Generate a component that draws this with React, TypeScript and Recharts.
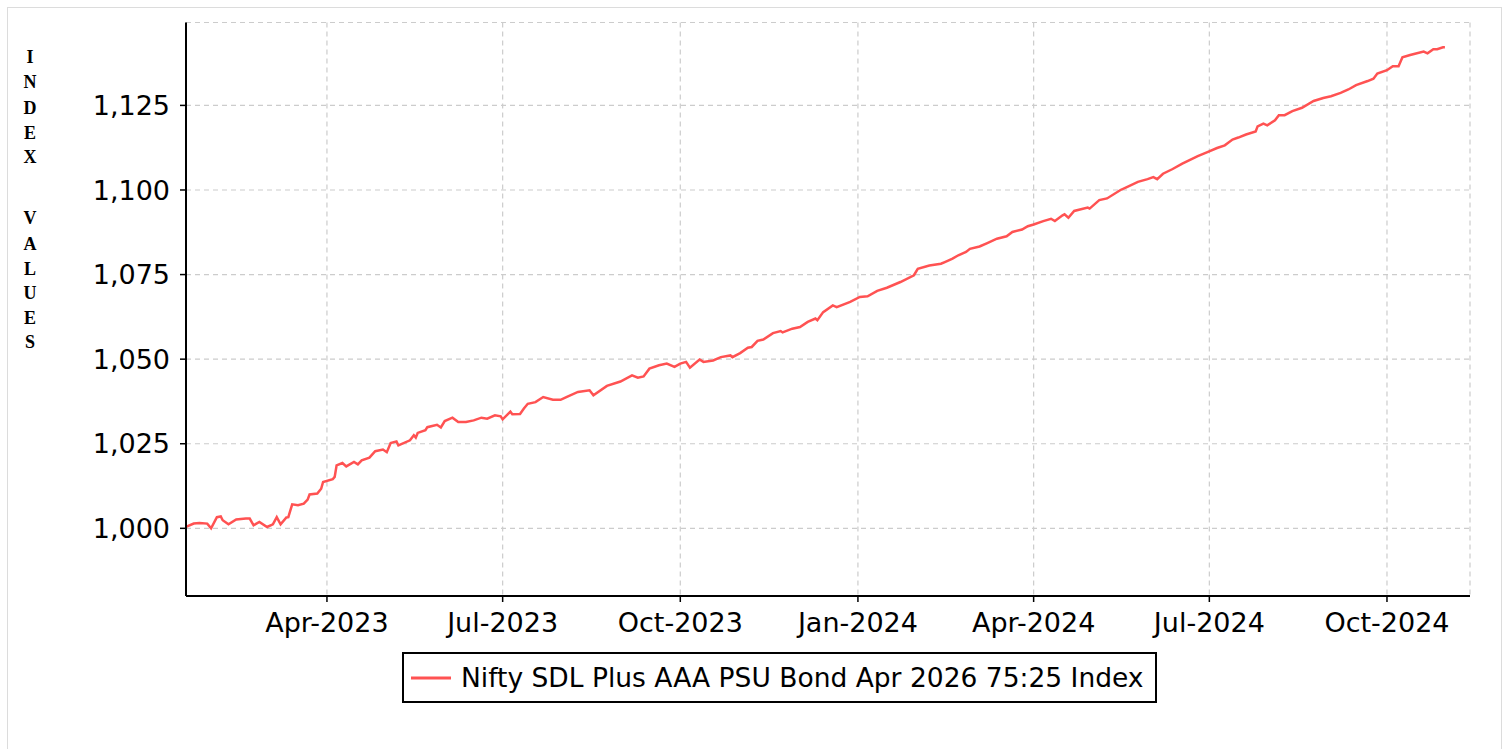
import { CartesianGrid, Legend, Line, LineChart, XAxis, YAxis } from "recharts";

// readings of the index, grouped one month per row
const dates = [
    "2023-01-18", "2023-01-22", "2023-01-25", "2023-01-29", "2023-01-31",
    "2023-02-03", "2023-02-05", "2023-02-06", "2023-02-09", "2023-02-13", "2023-02-18", "2023-02-20", "2023-02-22", "2023-02-25",
    "2023-03-01", "2023-03-04", "2023-03-06", "2023-03-08", "2023-03-11", "2023-03-12", "2023-03-14", "2023-03-17", "2023-03-20", "2023-03-22", "2023-03-23", "2023-03-27", "2023-03-29", "2023-03-30",
    "2023-04-04", "2023-04-05", "2023-04-06", "2023-04-09", "2023-04-11", "2023-04-15", "2023-04-17", "2023-04-19", "2023-04-23", "2023-04-26", "2023-04-30",
    "2023-05-02", "2023-05-04", "2023-05-07", "2023-05-08", "2023-05-14", "2023-05-16", "2023-05-17", "2023-05-18", "2023-05-22", "2023-05-23", "2023-05-28", "2023-05-30",
    "2023-06-01", "2023-06-05", "2023-06-08", "2023-06-12", "2023-06-16", "2023-06-20", "2023-06-23", "2023-06-27", "2023-06-30",
    "2023-07-01", "2023-07-05", "2023-07-06", "2023-07-10", "2023-07-12", "2023-07-14", "2023-07-18", "2023-07-22", "2023-07-27", "2023-07-31",
    "2023-08-03", "2023-08-09", "2023-08-15", "2023-08-17", "2023-08-24", "2023-08-31",
    "2023-09-06", "2023-09-09", "2023-09-12", "2023-09-15", "2023-09-20", "2023-09-24", "2023-09-28",
    "2023-10-01", "2023-10-04", "2023-10-06", "2023-10-11", "2023-10-13", "2023-10-18", "2023-10-22", "2023-10-27", "2023-10-28",
    "2023-11-01", "2023-11-05", "2023-11-07", "2023-11-10", "2023-11-13", "2023-11-18", "2023-11-22", "2023-11-23", "2023-11-28",
    "2023-12-02", "2023-12-06", "2023-12-10", "2023-12-11", "2023-12-14", "2023-12-19", "2023-12-21", "2023-12-28",
    "2024-01-02", "2024-01-06", "2024-01-11", "2024-01-16", "2024-01-23", "2024-01-30",
    "2024-02-01", "2024-02-07", "2024-02-13", "2024-02-15", "2024-02-19", "2024-02-22", "2024-02-26", "2024-02-28",
    "2024-03-04", "2024-03-08", "2024-03-13", "2024-03-18", "2024-03-21", "2024-03-26", "2024-03-29",
    "2024-04-01", "2024-04-06", "2024-04-10", "2024-04-12", "2024-04-16", "2024-04-17", "2024-04-19", "2024-04-22", "2024-04-29", "2024-04-30",
    "2024-05-05", "2024-05-09", "2024-05-16", "2024-05-19", "2024-05-25", "2024-05-30",
    "2024-06-02", "2024-06-04", "2024-06-07", "2024-06-12", "2024-06-17", "2024-06-25", "2024-06-30",
    "2024-07-05", "2024-07-09", "2024-07-13", "2024-07-16", "2024-07-20", "2024-07-25", "2024-07-26", "2024-07-29", "2024-07-31",
    "2024-08-04", "2024-08-06", "2024-08-09", "2024-08-13", "2024-08-18", "2024-08-24", "2024-08-29",
    "2024-09-02", "2024-09-07", "2024-09-11", "2024-09-15", "2024-09-21", "2024-09-24", "2024-09-26",
    "2024-10-01", "2024-10-04", "2024-10-07", "2024-10-09", "2024-10-13", "2024-10-15", "2024-10-20", "2024-10-22", "2024-10-25", "2024-10-27", "2024-10-30", "2024-10-31",
];

const indexValues = [
    1000.4, 1001.4, 1001.6, 1001.4, 1000.0,
    1003.3, 1003.5, 1002.4, 1001.2, 1002.6, 1002.9, 1002.9, 1000.9, 1001.9,
    1000.4, 1001.2, 1003.3, 1001.2, 1003.2, 1003.3, 1007.1, 1006.8, 1007.3, 1008.5, 1010.0, 1010.3, 1011.7, 1013.7,
    1014.5, 1015.2, 1018.6, 1019.3, 1018.3, 1019.6, 1018.9, 1020.1, 1020.9, 1022.8, 1023.3,
    1022.5, 1025.2, 1025.7, 1024.5, 1026.0, 1027.5, 1026.8, 1028.2, 1029.0, 1029.9, 1030.6, 1029.8,
    1031.7, 1032.7, 1031.4, 1031.4, 1031.9, 1032.7, 1032.4, 1033.4, 1033.1,
    1032.2, 1034.5, 1033.7, 1033.8, 1035.4, 1036.8, 1037.3, 1038.8, 1038.0, 1038.0,
    1038.8, 1040.3, 1040.8, 1039.3, 1042.1, 1043.4,
    1045.2, 1044.5, 1044.9, 1047.2, 1048.2, 1048.7, 1047.7,
    1048.7, 1049.2, 1047.5, 1049.9, 1049.2, 1049.6, 1050.6, 1051.1, 1050.6,
    1051.8, 1053.4, 1053.6, 1055.4, 1055.8, 1057.7, 1058.3, 1057.9, 1059.0,
    1059.5, 1061.0, 1062.0, 1061.5, 1063.9, 1065.9, 1065.4, 1066.9,
    1068.4, 1068.6, 1070.2, 1071.1, 1072.8, 1074.8,
    1076.7, 1077.7, 1078.2, 1078.7, 1079.7, 1080.7, 1081.7, 1082.6,
    1083.3, 1084.3, 1085.6, 1086.3, 1087.6, 1088.3, 1089.3,
    1089.8, 1090.8, 1091.5, 1090.8, 1092.5, 1092.8, 1091.8, 1093.8, 1094.8, 1094.5,
    1097.0, 1097.5, 1100.0, 1100.8, 1102.4, 1103.2,
    1103.8, 1103.2, 1104.8, 1106.2, 1107.8, 1110.0, 1111.2,
    1112.4, 1113.2, 1114.9, 1115.5, 1116.4, 1117.3, 1118.8, 1119.6, 1119.1,
    1120.6, 1122.1, 1122.1, 1123.3, 1124.3, 1126.3, 1127.2,
    1127.7, 1128.7, 1129.7, 1131.0, 1132.2, 1132.9, 1134.4,
    1135.4, 1136.6, 1136.6, 1139.2, 1139.9, 1140.2, 1140.9, 1140.4, 1141.6, 1141.6, 1142.2, 1142.2,
];

const tickDates = ["2023-04-01", "2023-07-01", "2023-10-01", "2024-01-01", "2024-04-01", "2024-07-01", "2024-10-01"];
const tickLabels = ["Apr-2023", "Jul-2023", "Oct-2023", "Jan-2024", "Apr-2024", "Jul-2024", "Oct-2024"];
const yTicks = [1000, 1025, 1050, 1075, 1100, 1125];

const xStart = "2023-01-18";
const xEnd = "2024-11-13";
const seriesName = "Nifty SDL Plus AAA PSU Bond Apr 2026 75:25 Index";
const yTitleTop = ["I", "N", "D", "E", "X"];
const yTitleBottom = ["V", "A", "L", "U", "E", "S"];

const data = dates.map((d, i) => ({ t: Date.parse(d), value: indexValues[i] }));
const xTicks = tickDates.map((d) => Date.parse(d));

const FONT = "'DejaVu Sans', sans-serif";
const LINE_COLOR = "#ff5252";

function formatTick(t: number) {
    const i = xTicks.indexOf(t);
    return i >= 0 ? tickLabels[i] : "";
}

function YTitle() {
    const top = [63, 88, 114, 139, 163];
    const bottom = [224, 250, 275, 299, 324, 348];
    const style = { fontFamily: "'Liberation Serif', serif", fontWeight: 700, fontSize: 18, fill: "#000" };
    return (
        <g>
            {yTitleTop.map((c, i) => (
                <text key={"t" + i} x={30} y={top[i]} textAnchor="middle" style={style}>{c}</text>
            ))}
            {yTitleBottom.map((c, i) => (
                <text key={"b" + i} x={30} y={bottom[i]} textAnchor="middle" style={style}>{c}</text>
            ))}
        </g>
    );
}

function LegendBox() {
    return (
        <div style={{
            boxSizing: "border-box",
            width: 755,
            height: 51,
            border: "2px solid #000",
            display: "flex",
            alignItems: "center",
            fontFamily: FONT,
            fontSize: 26.5,
            color: "#000",
        }}>
            <svg width={40} height={4} style={{ marginLeft: 7 }}>
                <line x1={0} y1={2} x2={40} y2={2} stroke={LINE_COLOR} strokeWidth={3} />
            </svg>
            <span style={{ marginLeft: 10, whiteSpace: "nowrap" }}>{seriesName}</span>
        </div>
    );
}

export default function App() {
    return (
        <div style={{ position: "absolute", left: 0, top: 0, width: 1506, height: 749, overflow: "hidden", background: "#fff" }}>
            <div style={{
                position: "absolute", left: 7, top: 7, width: 1495, height: 742,
                boxSizing: "border-box", border: "1px solid #dcdcdc", borderBottom: "none",
            }} />
            <div style={{ position: "absolute", left: 0, top: 0 }}>
                <LineChart width={1506} height={749} data={data}
                    margin={{ top: 22.5, right: 36, bottom: 0, left: 0 }}
                    style={{ fontFamily: FONT }}>
                    <CartesianGrid stroke="#cccccc" strokeDasharray="5 4" strokeWidth={1.2} />
                    <XAxis
                        dataKey="t"
                        type="number"
                        scale="time"
                        domain={[Date.parse(xStart), Date.parse(xEnd)]}
                        ticks={xTicks}
                        tickFormatter={formatTick}
                        height={153}
                        stroke="#000"
                        axisLine={{ stroke: "#000", strokeWidth: 2 }}
                        tickLine={{ stroke: "#000", strokeWidth: 1.5 }}
                        tickSize={6}
                        tickMargin={10.5}
                        tick={{ fill: "#000", fontSize: 27, fontFamily: FONT }}
                        allowDataOverflow
                    />
                    <YAxis
                        type="number"
                        domain={[980, 1149.5]}
                        ticks={yTicks}
                        tickFormatter={(v: number) => v.toLocaleString("en-US")}
                        width={186}
                        stroke="#000"
                        axisLine={{ stroke: "#000", strokeWidth: 2 }}
                        tickLine={{ stroke: "#000", strokeWidth: 1.5 }}
                        tickSize={6}
                        tickMargin={10}
                        tick={{ fill: "#000", fontSize: 27, fontFamily: FONT }}
                        allowDataOverflow
                        label={{ content: () => <YTitle /> }}
                    />
                    <Line
                        type="linear"
                        dataKey="value"
                        name={seriesName}
                        stroke={LINE_COLOR}
                        strokeWidth={2.5}
                        dot={false}
                        isAnimationActive={false}
                    />
                    <Legend
                        layout="horizontal"
                        verticalAlign="middle"
                        align="center"
                        wrapperStyle={{ left: 402, top: 652, width: 755, height: 51 }}
                        content={() => <LegendBox />}
                    />
                </LineChart>
            </div>
        </div>
    );
}
